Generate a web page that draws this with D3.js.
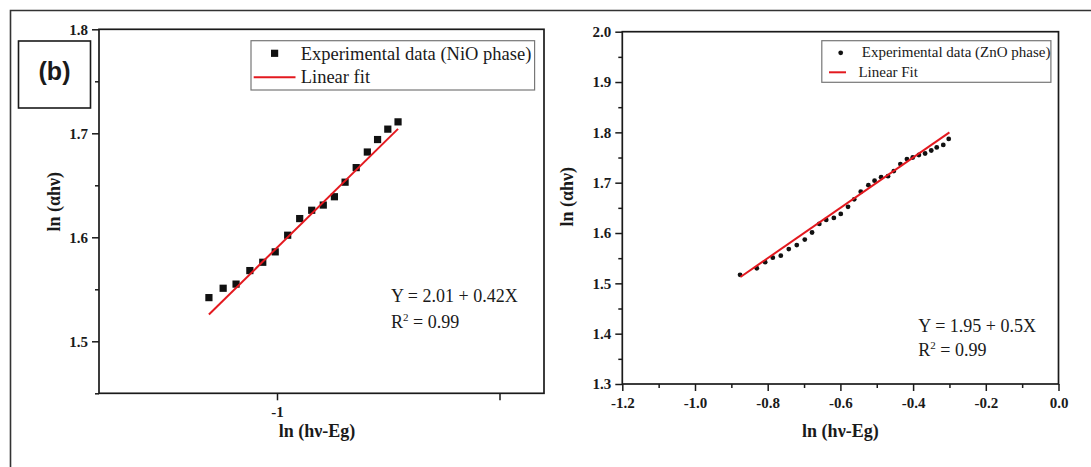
<!DOCTYPE html>
<html>
<head>
<meta charset="utf-8">
<script src="https://cdn.jsdelivr.net/npm/d3@7"></script>
<style>
  body { margin: 0; background: #fff; }
  svg { display: block; }
  text { font-family: "Liberation Serif", "Times New Roman", serif; fill: #1a1a1a; }
</style>
</head>
<body>
<svg id="fig" width="1091" height="467"></svg>
<script>
// ---- NiO phase: ln(αhν) vs ln(hν-Eg) ----
const nioX = [-1.153, -1.121, -1.092, -1.061, -1.032, -1.004, -0.976, -0.949, -0.922,
              -0.896, -0.871, -0.847, -0.822, -0.797, -0.774, -0.751, -0.728];
const nioY = [1.542, 1.551, 1.555, 1.568, 1.576, 1.586, 1.602, 1.618, 1.626,
              1.631, 1.639, 1.653, 1.667, 1.682, 1.694, 1.704, 1.711];
const nioFit = [2.01, 0.42];          // intercept, slope
const nioFitRange = [-1.153, -0.728];
const nioXTicks = [-1, -0.5];
const nioXTickLabels = ["-1", ""];
const nioYTicks = [1.5, 1.6, 1.7, 1.8];
const nioYMinor = [1.45, 1.55, 1.65, 1.75];

// ---- ZnO phase ----
const znoX = [-0.876, -0.830, -0.807, -0.786, -0.764, -0.742, -0.720, -0.698, -0.678, -0.658,
              -0.639, -0.618, -0.599, -0.579, -0.562, -0.544, -0.523, -0.506, -0.488, -0.469,
              -0.453, -0.435, -0.417, -0.401, -0.384, -0.367, -0.350, -0.335, -0.317, -0.302];
const znoY = [1.517, 1.530, 1.542, 1.551, 1.555, 1.568, 1.576, 1.587, 1.601, 1.618,
              1.626, 1.630, 1.638, 1.652, 1.667, 1.682, 1.695, 1.704, 1.711, 1.713,
              1.723, 1.737, 1.747, 1.750, 1.755, 1.758, 1.764, 1.770, 1.775, 1.787];
const znoFit = [1.95, 0.5];
const znoFitRange = [-0.875, -0.30];
const znoXTicks = [-1.2, -1.0, -0.8, -0.6, -0.4, -0.2, 0.0];
const znoXMinor = [-1.1, -0.9, -0.7, -0.5, -0.3, -0.1];
const znoYTicks = [1.3, 1.4, 1.5, 1.6, 1.7, 1.8, 1.9, 2.0];
const znoYMinor = [1.35, 1.45, 1.55, 1.65, 1.75, 1.85, 1.95];

const svg = d3.select("#fig");
const INK = "#1a1a1a";
const RED = "#e3191f";

// outer figure frame (open on right and bottom)
svg.append("path")
  .attr("d", "M10.5,467V10.5H1091")
  .attr("fill", "none").attr("stroke", "#333").attr("stroke-width", 1.6);

// panel label box
svg.append("rect").attr("x", 18.5).attr("y", 41).attr("width", 72).attr("height", 67)
  .attr("fill", "#fff").attr("stroke", INK).attr("stroke-width", 1.6);
svg.append("text").attr("x", 54.5).attr("y", 80).attr("text-anchor", "middle")
  .style("font-family", "'Liberation Sans', Arial, sans-serif")
  .style("font-weight", "bold").style("font-size", "25px").text("(b)");

function drawPanel(p) {
  const x = d3.scaleLinear().domain(p.xDomain).range(p.xRange);
  const y = d3.scaleLinear().domain(p.yDomain).range(p.yRange);
  const g = svg.append("g");

  // minor ticks
  if (p.yMinor) {
    g.append("g").attr("transform", `translate(${p.xRange[0]},0)`)
      .call(d3.axisLeft(y).tickValues(p.yMinor).tickSize(4).tickSizeOuter(0).tickFormat(""))
      .call(a => a.select(".domain").remove());
  }
  if (p.xMinor) {
    g.append("g").attr("transform", `translate(0,${p.yRange[0]})`)
      .call(d3.axisBottom(x).tickValues(p.xMinor).tickSize(4).tickSizeOuter(0).tickFormat(""))
      .call(a => a.select(".domain").remove());
  }
  // major y ticks
  g.append("g").attr("transform", `translate(${p.xRange[0]},0)`)
    .call(d3.axisLeft(y).tickValues(p.yTicks).tickSize(7).tickSizeOuter(0).tickPadding(4)
      .tickFormat(d => d.toFixed(1)))
    .call(a => a.select(".domain").remove());
  // major x ticks
  g.append("g").attr("transform", `translate(0,${p.yRange[0]})`)
    .call(d3.axisBottom(x).tickValues(p.xTicks).tickSize(7).tickSizeOuter(0).tickPadding(6.5)
      .tickFormat((d, i) => p.xTickLabels[i]))
    .call(a => a.select(".domain").remove());

  g.selectAll(".tick line").attr("stroke", INK).attr("stroke-width", 1.5);
  g.selectAll(".tick text")
    .style("font-family", "'Liberation Serif', 'Times New Roman', serif")
    .style("font-weight", "bold").style("font-size", "15px").attr("fill", INK);

  // plot frame
  g.append("rect")
    .attr("x", p.xRange[0]).attr("y", p.yRange[1])
    .attr("width", p.xRange[1] - p.xRange[0]).attr("height", p.yRange[0] - p.yRange[1])
    .attr("fill", "none").attr("stroke", INK).attr("stroke-width", 1.7);

  // axis titles
  g.append("text")
    .attr("x", (p.xRange[0] + p.xRange[1]) / 2 + p.xTitleShift).attr("y", 437)
    .attr("text-anchor", "middle").style("font-weight", "bold").style("font-size", "18px")
    .text("ln (hν-Eg)");
  g.append("text")
    .attr("transform", `translate(${p.yTitleX},${p.yTitleY}) rotate(-90)`)
    .attr("text-anchor", "middle").attr("dy", "0.35em")
    .style("font-weight", "bold").style("font-size", "18px")
    .text("ln (αhν)");

  // experimental points
  const pts = p.xs.map((v, i) => ({ x: v, y: p.ys[i] }));
  if (p.marker === "square") {
    g.selectAll("rect.pt").data(pts).join("rect").attr("class", "pt")
      .attr("x", d => x(d.x) - 3.6).attr("y", d => y(d.y) - 3.6)
      .attr("width", 7.2).attr("height", 7.2).attr("fill", "#111");
  } else {
    g.selectAll("circle.pt").data(pts).join("circle").attr("class", "pt")
      .attr("cx", d => x(d.x)).attr("cy", d => y(d.y)).attr("r", 2.4).attr("fill", "#111");
  }

  // linear fit
  const fitPts = p.fitRange.map(v => [v, p.fit[0] + p.fit[1] * v]);
  g.append("path")
    .attr("d", d3.line().x(d => x(d[0])).y(d => y(d[1]))(fitPts))
    .attr("fill", "none").attr("stroke", RED).attr("stroke-width", 2);

  // legend
  const L = p.legend;
  g.append("rect").attr("x", L.x).attr("y", L.y).attr("width", L.w).attr("height", L.h)
    .attr("fill", "#fff").attr("stroke", "#777").attr("stroke-width", 1.2);
  if (p.marker === "square") {
    g.append("rect").attr("x", L.symX - 3.6).attr("y", L.symY - 3.6)
      .attr("width", 7.2).attr("height", 7.2).attr("fill", "#111");
  } else {
    g.append("circle").attr("cx", L.symX).attr("cy", L.symY).attr("r", 2.4).attr("fill", "#111");
  }
  g.append("text").attr("x", L.t1x).attr("y", L.t1y).style("font-size", L.fs + "px").text(L.t1);
  g.append("line").attr("x1", L.lx1).attr("x2", L.lx2).attr("y1", L.ly).attr("y2", L.ly)
    .attr("stroke", RED).attr("stroke-width", 2);
  g.append("text").attr("x", L.t2x).attr("y", L.t2y).style("font-size", L.fs + "px").text(L.t2);

  // fit equation
  const E = p.eq;
  g.append("text").attr("x", E.x).attr("y", E.y1).style("font-size", "18px").text(E.text);
  const r2 = g.append("text").attr("x", E.x).attr("y", E.y2).style("font-size", "18px");
  r2.append("tspan").text("R");
  r2.append("tspan").attr("dy", -7).style("font-size", "11px").text("2");
  r2.append("tspan").attr("dy", 7).text(" = 0.99");
}

drawPanel({
  xs: nioX, ys: nioY, marker: "square",
  xDomain: [-1.4, -0.4], xRange: [99, 544],
  yDomain: [1.45, 1.8], yRange: [393.3, 29.3],
  xTicks: nioXTicks, xTickLabels: nioXTickLabels, xMinor: null,
  yTicks: nioYTicks, yMinor: nioYMinor,
  fit: nioFit, fitRange: nioFitRange,
  xTitleShift: -4.5, yTitleX: 53.5, yTitleY: 201.7,
  legend: { x: 251, y: 40.7, w: 283.6, h: 49.3, symX: 274.6, symY: 53.3,
            t1: "Experimental data (NiO phase)", t1x: 300.7, t1y: 60,
            t2: "Linear fit", t2x: 300.7, t2y: 83.3,
            lx1: 253.7, lx2: 295.5, ly: 77.3, fs: 18.5 },
  eq: { text: "Y = 2.01 + 0.42X", x: 391, y1: 301.5, y2: 328 }
});

drawPanel({
  xs: znoX, ys: znoY, marker: "circle",
  xDomain: [-1.2, 0.0], xRange: [622.3, 1058.5],
  yDomain: [1.3, 2.0], yRange: [384, 31.7],
  xTicks: znoXTicks, xTickLabels: znoXTicks.map(d => d.toFixed(1)), xMinor: znoXMinor,
  yTicks: znoYTicks, yMinor: znoYMinor,
  fit: znoFit, fitRange: znoFitRange,
  xTitleShift: 0, yTitleX: 566.8, yTitleY: 196.7,
  legend: { x: 821.8, y: 40.7, w: 229.1, h: 41.6, symX: 840.7, symY: 52.8,
            t1: "Experimental data (ZnO phase)", t1x: 861.8, t1y: 56.5,
            t2: "Linear Fit", t2x: 858.4, t2y: 76.7,
            lx1: 829, lx2: 846, ly: 72.3, fs: 15 },
  eq: { text: "Y = 1.95 + 0.5X", x: 918.3, y1: 331.5, y2: 356 }
});
</script>
</body>
</html>
